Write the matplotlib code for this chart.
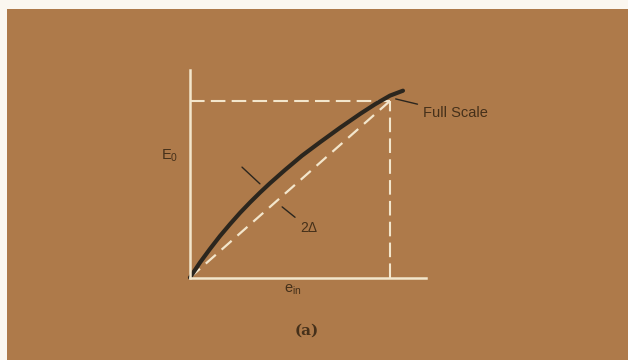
import matplotlib
matplotlib.use('Agg')
import matplotlib.pyplot as plt
from matplotlib.patches import Rectangle

# transfer curve of the converter (normalised to full scale)
e_in = [0.0, 0.05, 0.1, 0.15, 0.2, 0.25, 0.3, 0.35, 0.4, 0.475, 0.56,
        0.65, 0.75, 0.85, 0.925, 1.0, 1.065]
E_out = [0.0, 0.085, 0.162, 0.235, 0.302, 0.366, 0.425, 0.481, 0.534, 0.609,
         0.69, 0.766, 0.848, 0.926, 0.981, 1.03, 1.058]

# ideal straight line and full scale point
ideal_x = [0.0, 1.0]
ideal_y = [0.0, 1.0]
full_scale = (1.0, 1.0)

bg = '#ae7a4a'
cream = '#f3e6cc'
ink = '#2b261e'
label_col = '#45301a'

fig = plt.figure(figsize=(6.28, 3.6), dpi=100)
fig.patch.set_facecolor(bg)

# light paper border at top and left
fig.patches.append(Rectangle((0, 0.975), 1, 0.025, transform=fig.transFigure,
                             facecolor='#fbf7f0', edgecolor='none'))
fig.patches.append(Rectangle((0, 0), 0.011, 1, transform=fig.transFigure,
                             facecolor='#fbf7f0', edgecolor='none'))

ax = fig.add_axes([0.3025, 0.229, 0.3758, 0.576])
ax.set_facecolor(bg)
ax.set_xlim(0, 1.18)
ax.set_ylim(0, 1.174)
ax.set_xticks([])
ax.set_yticks([])
for side in ['top', 'right']:
    ax.spines[side].set_visible(False)
for side in ['left', 'bottom']:
    ax.spines[side].set_color(cream)
    ax.spines[side].set_linewidth(1.8)

# dashed guides
ax.plot([0, full_scale[0]], [full_scale[1], full_scale[1]], color=cream, lw=1.5,
        dashes=(7, 3))
ax.plot([full_scale[0], full_scale[0]], [0, full_scale[1]], color=cream, lw=1.5,
        dashes=(7, 3))
ax.plot(ideal_x, ideal_y, color=cream, lw=1.6, dashes=(6, 3.5))

# actual curve
ax.plot(e_in, E_out, color=ink, lw=3.0, solid_capstyle='round',
        solid_joinstyle='round', clip_on=False)

# labels and leaders
txt = dict(color=label_col, family='Liberation Sans', clip_on=False)
ax.annotate('Full Scale', xy=(1.015, 1.015), xytext=(1.165, 0.93),
            fontsize=10.5, va='center', ha='left',
            arrowprops=dict(arrowstyle='-', color=ink, lw=1.0),
            annotation_clip=False, **txt)
ax.annotate('2Δ', xy=(0.45, 0.41), xytext=(0.55, 0.28),
            fontsize=10, va='center', ha='left',
            arrowprops=dict(arrowstyle='-', color=ink, lw=1.0),
            annotation_clip=False, **txt)
ax.annotate('', xy=(0.36, 0.52), xytext=(0.25, 0.636),
            arrowprops=dict(arrowstyle='-', color=ink, lw=1.0), annotation_clip=False)

ax.text(-0.1, 0.693, r'E$_\mathregular{0}$', fontsize=10.5,
        ha='center', va='center', **txt)
ax.text(0.515, -0.071, r'e$_\mathregular{in}$', fontsize=10.5,
        ha='center', va='center', **txt)
ax.text(0.585, -0.303, '(a)', fontsize=11, family='DejaVu Serif', weight='bold',
        color=label_col, ha='center', va='center', clip_on=False)

fig.savefig('out.png', dpi=100, facecolor=fig.get_facecolor())
